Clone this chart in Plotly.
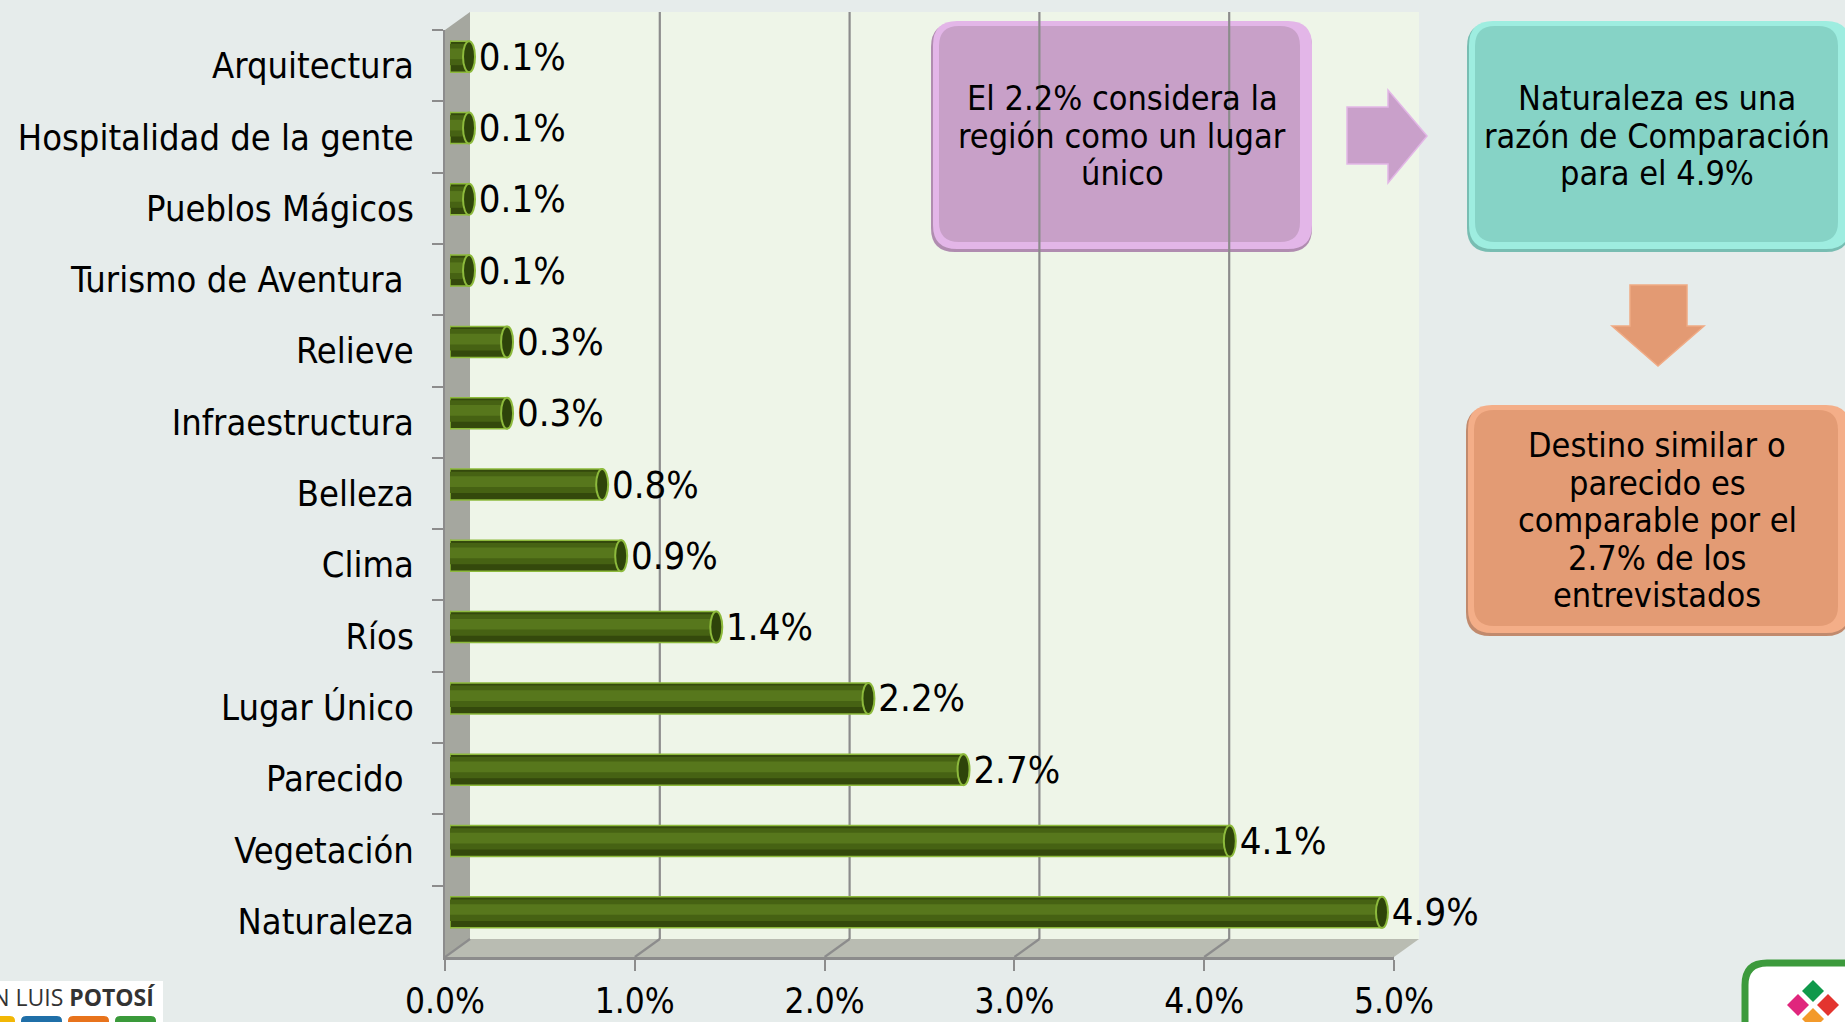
import plotly.graph_objects as go

# ---------------- data ----------------
categories = ["Arquitectura", "Hospitalidad de la gente", "Pueblos Mágicos",
              "Turismo de Aventura\u00a0", "Relieve", "Infraestructura", "Belleza",
              "Clima", "Ríos", "Lugar Único", "Parecido\u00a0", "Vegetación", "Naturaleza"]
values_pct = [0.1, 0.1, 0.1, 0.1, 0.3, 0.3, 0.8, 0.9, 1.4, 2.2, 2.7, 4.1, 4.9]
x_ticks_pct = [0, 1, 2, 3, 4, 5]

box_purple_lines = ["El 2.2% considera la", "región como un lugar", "único"]
box_teal_lines = ["Naturaleza es una", "razón de Comparación", "para el 4.9%"]
box_orange_lines = ["Destino similar o", "parecido es", "comparable por el",
                    "2.7% de los", "entrevistados"]

values = [v / 100 for v in values_pct]
x_ticks = [t / 100 for t in x_ticks_pct]

# ---------------- geometry / style ----------------
W, H = 1845, 1022
FONT = "DejaVu Sans Condensed, DejaVu Sans, sans-serif"
FX0, FX1 = 445, 1394          # front plane x (0% .. 5%)
TOP, BOT = 30, 957            # front plane y
DDX, DDY = 25, 18             # depth offset to the back wall
BX0, BX1 = 450, 1401          # bar plane x
BDY = 9                       # bar plane vertical shift
GRID = "#8C8C8C"


def px(x):
    return x / W


def py(y):
    return 1 - y / H


def poly(points):
    s = "M" + " L".join(f"{px(x)},{py(y)}" for x, y in points) + " Z"
    return s


def rrect(x0, y0, x1, y1, r):
    rx, ry = r / W, r / H
    X0, X1, Y0, Y1 = px(x0), px(x1), py(y0), py(y1)
    return (f"M{X0+rx},{Y0} L{X1-rx},{Y0} Q{X1},{Y0} {X1},{Y0-ry} "
            f"L{X1},{Y1+ry} Q{X1},{Y1} {X1-rx},{Y1} L{X0+rx},{Y1} "
            f"Q{X0},{Y1} {X0},{Y1+ry} L{X0},{Y0-ry} Q{X0},{Y0} {X0+rx},{Y0} Z")


def pshape(path, fill, line_color=None, lw=0, layer="below"):
    return dict(type="path", xref="paper", yref="paper", path=path,
                fillcolor=fill, layer=layer,
                line=dict(color=line_color or fill, width=lw))


shapes = []
# back wall, left wall, floor
shapes.append(pshape(poly([(FX0 + DDX, TOP - DDY), (FX1 + DDX, TOP - DDY),
                           (FX1 + DDX, BOT - DDY), (FX0 + DDX, BOT - DDY)]), "#EEF5E8"))
shapes.append(pshape(poly([(FX0, TOP), (FX0 + DDX, TOP - DDY),
                           (FX0 + DDX, BOT - DDY), (FX0, BOT)]), "#A5A79F"))
shapes.append(pshape(poly([(FX0, BOT), (FX1, BOT), (FX1 + DDX, BOT - DDY),
                           (FX0 + DDX, BOT - DDY)]), "#B9BCB2"))


def fancy_box(x0, y0, x1, y1, main, light, shadow):
    shapes.append(pshape(rrect(x0 - 2, y0 + 2, x1, y1 + 3, 24), shadow))
    shapes.append(pshape(rrect(x0, y0, x1, y1, 24), light))
    shapes.append(pshape(rrect(x0 + 6, y0 + 5, x1 - 12, y1 - 7, 20), main))


# purple box (under the gridlines)
fancy_box(933, 21, 1312, 249, "#C8A0C8", "#E3B6E8", "#B08CB0")

# back-wall gridlines and floor lines, placed through the front x axis
for t in x_ticks:
    if t > 0:
        shapes.append(dict(type="line", xref="x", yref="paper", layer="below",
                           xsizemode="pixel", xanchor=t, x0=DDX, x1=DDX,
                           y0=py(BOT - DDY), y1=py(TOP - DDY),
                           line=dict(color=GRID, width=2.2)))
    shapes.append(dict(type="line", xref="x", yref="paper", layer="below",
                       xsizemode="pixel", xanchor=t, x0=0, x1=DDX,
                       ysizemode="pixel", yanchor=py(BOT), y0=0, y1=DDY,
                       line=dict(color=GRID, width=2.2)))

# other boxes and arrows
fancy_box(1469, 21, 1850, 249, "#86D3C6", "#9EEDE0", "#78BDB2")
fancy_box(1468, 405, 1850, 633, "#E39B74", "#F4AE88", "#C18A6D")
shapes.append(pshape(poly([(1347, 107), (1388, 107), (1388, 90), (1427, 136),
                           (1388, 183), (1388, 164), (1347, 164)]),
                     "#C9A0CA", "#E2B6E6", 1.5))
shapes.append(pshape(poly([(1630, 285), (1687, 285), (1687, 326), (1704, 326),
                           (1658, 366), (1612, 326), (1630, 326)]),
                     "#E39A73", "#F0AA84", 1.5))

# cylinder ends
BAR_W = 0.435
for i, v in enumerate(values):
    shapes.append(dict(type="circle", xref="x2", yref="y2", layer="below",
                       xsizemode="pixel", xanchor=0, x0=-6, x1=6,
                       y0=i - BAR_W / 2, y1=i + BAR_W / 2,
                       fillcolor="#3E5812", line=dict(color="#8DBA3C", width=1.5)))
    shapes.append(dict(type="circle", xref="x2", yref="y2", layer="above",
                       xsizemode="pixel", xanchor=v, x0=-6, x1=6,
                       y0=i - BAR_W / 2, y1=i + BAR_W / 2,
                       fillcolor="#2E440A", line=dict(color="#8DBA3C", width=2)))

# logos
shapes.append(pshape(poly([(0, 981), (163, 981), (163, 1022), (0, 1022)]), "#FFFFFF", layer="above"))
for (a, b, c) in [(-20, 15, "#F2B705"), (21, 62, "#1F6FA8"), (68, 109, "#E8731C"), (115, 156, "#3A9A3A")]:
    shapes.append(pshape(rrect(a, 1016, b, 1030, 5), c, layer="above"))
shapes.append(pshape(rrect(1745, 963, 1870, 1060, 22), "#FFFFFF", "#3C9A3C", 7, layer="above"))
for (cx, cy, c) in [(1813, 991, "#10994B"), (1798, 1005, "#E0267D"),
                    (1828, 1005, "#E3342F"), (1813, 1019, "#F39A2B")]:
    shapes.append(pshape(poly([(cx, cy - 11), (cx + 11, cy), (cx, cy + 11), (cx - 11, cy)]),
                         c, layer="above"))

# ---------------- annotations ----------------
annotations = []


def box_text(lines, cx, y_first, step=37.5):
    for j, line in enumerate(lines):
        annotations.append(dict(text=line, x=px(cx), y=py(y_first + j * step),
                                xref="paper", yref="paper", showarrow=False,
                                xanchor="center", yanchor="middle",
                                font=dict(family=FONT, size=34, color="#000000")))


box_text(box_purple_lines, 1122, 98)
box_text(box_teal_lines, 1657, 98)
box_text(box_orange_lines, 1657, 445)
annotations.append(dict(text="SAN LUIS <b>POTOSÍ</b>", x=px(157), y=py(997),
                        xref="paper", yref="paper", showarrow=False,
                        xanchor="right", yanchor="middle",
                        font=dict(family="Open Sans, sans-serif", size=23, color="#333333")))

# ---------------- traces ----------------
fig = go.Figure()
# front plane anchor (invisible) for the category axis
fig.add_trace(go.Scatter(x=[0] * len(categories), y=categories, mode="markers",
                         marker=dict(opacity=0), hoverinfo="skip",
                         showlegend=False, xaxis="x", yaxis="y"))
fig.add_trace(go.Bar(x=values, y=categories, orientation="h", width=BAR_W,
                     marker=dict(color="#34490C", line=dict(color="#8DBA3C", width=1.5)),
                     texttemplate="\u2009%{x:.1%}", textposition="outside",
                     constraintext="none", cliponaxis=False,
                     textfont=dict(family=FONT, size=38, color="#000000"),
                     hoverinfo="skip", showlegend=False, xaxis="x2", yaxis="y2"))
fig.add_trace(go.Bar(x=values, y=categories, orientation="h", width=0.30,
                     offset=-0.30 / 2 - 0.03,
                     marker=dict(color="#466213", line=dict(width=0)),
                     hoverinfo="skip", showlegend=False, xaxis="x2", yaxis="y2"))
fig.add_trace(go.Bar(x=values, y=categories, orientation="h", width=0.15,
                     offset=-0.15 / 2 - 0.04,
                     marker=dict(color="#57771C", line=dict(width=0)),
                     hoverinfo="skip", showlegend=False, xaxis="x2", yaxis="y2"))

cat_range = [len(categories) - 0.5, -0.5]
fig.update_layout(
    width=W, height=H,
    margin=dict(l=0, r=0, t=0, b=0, autoexpand=False),
    paper_bgcolor="#E6ECEB",
    plot_bgcolor="rgba(0,0,0,0)",
    barmode="overlay",
    showlegend=False,
    font=dict(family=FONT, color="#000000"),
    shapes=shapes,
    annotations=annotations,
    xaxis=dict(domain=[px(FX0), px(FX1)], range=[0, 0.05], anchor="y",
               automargin=False,
               tickvals=x_ticks, tickformat=".1%", ticks="outside", ticklen=11,
               tickwidth=2, tickcolor=GRID, showline=True, linecolor=GRID,
               linewidth=2.5, showgrid=False, zeroline=False,
               tickfont=dict(family=FONT, size=35, color="#000000"),
               ticklabelstandoff=0),
    yaxis=dict(domain=[py(BOT), py(TOP)], anchor="x", type="category",
               automargin=False,
               categoryorder="array", categoryarray=categories, range=cat_range,
               ticks="outside", tickson="boundaries", ticklen=11, tickwidth=2,
               tickcolor=GRID, showline=True, linecolor=GRID, linewidth=2,
               showgrid=False, zeroline=False,
               tickfont=dict(family=FONT, size=36, color="#000000"),
               ticklabelstandoff=22),
    xaxis2=dict(domain=[px(BX0), px(BX1)], range=[0, 0.05], anchor="y2",
                automargin=False, visible=False, showgrid=False, zeroline=False),
    yaxis2=dict(domain=[py(BOT - BDY), py(TOP - BDY)], anchor="x2", type="category",
                automargin=False,
                categoryorder="array", categoryarray=categories, range=cat_range,
                visible=False, showgrid=False, zeroline=False),
)

fig.write_html("out.html")
